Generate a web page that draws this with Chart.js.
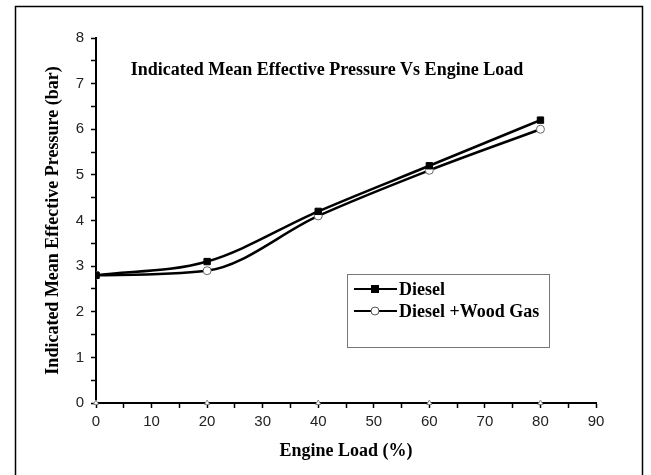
<!DOCTYPE html>
<html>
<head>
<meta charset="utf-8">
<script src="https://cdn.jsdelivr.net/npm/chart.js@4.4.0/dist/chart.umd.min.js"></script>
<style>
  body { margin: 0; background: #fff; }
  canvas { display: block; }
</style>
</head>
<body>
<canvas id="imep" width="651" height="475"></canvas>
<script>
// values
let loads = [0, 20, 40, 60, 80];
let diesel = [2.8, 3.1, 4.2, 5.2, 6.2];
let woodGas = [2.8, 2.9, 4.1, 5.1, 6.0];
let baseMarks = [0, 0, 0, 0, 0];
let seriesNames = ['Diesel', 'Diesel +Wood Gas'];
let chartTitle = 'Indicated Mean Effective Pressure Vs Engine Load';

function pts(ys) {
    return loads.map((x, i) => ({x: x, y: ys[i]}));
}

let serif = "'Liberation Serif', 'Times New Roman', serif";
let sans = "'Liberation Sans', Arial, sans-serif";

// frame, inner title and boxed legend
let extras = {
    id: 'extras',
    afterDraw(chart) {
        let c = chart.ctx;
        c.save();
        c.strokeStyle = '#000';
        c.lineWidth = 1.5;
        c.strokeRect(15.5, 6.5, 627, 480);

        c.fillStyle = '#000';
        c.font = 'bold 18px ' + serif;
        c.textAlign = 'center';
        c.textBaseline = 'middle';
        c.fillText(chartTitle, 327, 70);

        // legend box
        c.strokeStyle = '#777';
        c.lineWidth = 1;
        c.strokeRect(347.5, 274.5, 202, 73);
        c.textAlign = 'left';
        c.font = 'bold 18px ' + serif;
        let rows = [289, 311];
        rows.forEach((y, i) => {
            c.strokeStyle = '#000';
            c.lineWidth = 2;
            c.beginPath();
            c.moveTo(354, y);
            c.lineTo(397, y);
            c.stroke();
            if (i == 0) {
                c.fillStyle = '#000';
                c.fillRect(371, y - 4, 8, 8);
            } else {
                c.fillStyle = '#fff';
                c.strokeStyle = '#555';
                c.lineWidth = 1;
                c.beginPath();
                c.arc(375, y, 4, 0, Math.PI * 2);
                c.fill();
                c.stroke();
            }
            c.fillStyle = '#000';
            c.fillText(seriesNames[i], 399, y + 1);
        });
        c.restore();
    }
};

new Chart(document.getElementById('imep'), {
    type: 'line',
    data: {
        datasets: [
            {
                label: seriesNames[0],
                data: pts(diesel),
                borderColor: '#000',
                borderWidth: 2.5,
                cubicInterpolationMode: 'monotone',
                pointStyle: 'rect',
                pointRadius: 4.5,
                pointBackgroundColor: '#000',
                pointBorderColor: '#000',
                pointBorderWidth: 1
            },
            {
                label: seriesNames[1],
                data: pts(woodGas),
                borderColor: '#000',
                borderWidth: 2.5,
                cubicInterpolationMode: 'monotone',
                pointStyle: 'circle',
                pointRadius: 4,
                pointBackgroundColor: '#fff',
                pointBorderColor: '#666',
                pointBorderWidth: 1
            },
            {
                label: 'base',
                data: pts(baseMarks),
                showLine: false,
                clip: false,
                pointStyle: 'triangle',
                pointRadius: 3,
                pointBackgroundColor: '#fff',
                pointBorderColor: '#888',
                pointBorderWidth: 1
            }
        ]
    },
    options: {
        responsive: false,
        animation: false,
        layout: {
            padding: {top: 38, right: 55, left: 0, bottom: 0}
        },
        plugins: {
            legend: {display: false},
            tooltip: {enabled: false}
        },
        scales: {
            x: {
                type: 'linear',
                min: 0,
                max: 90,
                afterFit: s => { s.height = 72; },
                ticks: {
                    stepSize: 5,
                    autoSkip: false,
                    maxRotation: 0,
                    padding: 5,
                    color: '#222',
                    font: {family: sans, size: 15},
                    callback: v => (v % 10 == 0 ? v : '')
                },
                grid: {
                    drawOnChartArea: false,
                    tickLength: 5,
                    tickColor: '#000',
                    tickWidth: 1.5
                },
                border: {color: '#000', width: 2},
                title: {
                    display: true,
                    text: 'Engine Load (%)',
                    color: '#000',
                    font: {family: serif, size: 18, weight: 'bold'},
                    padding: {top: 0, bottom: 13}
                }
            },
            y: {
                min: 0,
                max: 8,
                afterFit: s => { s.width = 96; },
                ticks: {
                    stepSize: 0.5,
                    autoSkip: false,
                    padding: 7,
                    color: '#222',
                    font: {family: sans, size: 15},
                    callback: v => (Number.isInteger(v) ? v : '')
                },
                grid: {
                    drawOnChartArea: false,
                    tickLength: 5,
                    tickColor: '#000',
                    tickWidth: 1.5
                },
                border: {color: '#000', width: 2},
                title: {
                    display: true,
                    text: 'Indicated Mean Effective Pressure (bar)',
                    color: '#000',
                    font: {family: serif, size: 18, weight: 'bold'},
                    padding: {top: 43, bottom: 0}
                }
            }
        }
    },
    plugins: [extras]
});
</script>
</body>
</html>
